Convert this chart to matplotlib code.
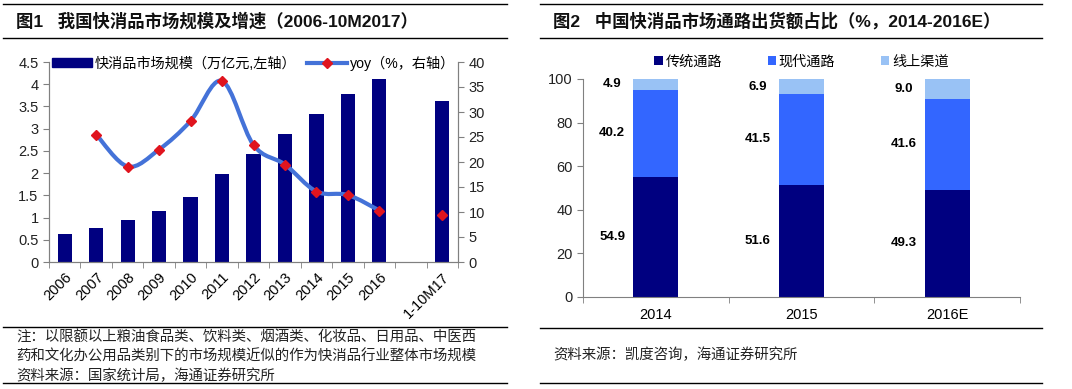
import numpy as np
import matplotlib
matplotlib.use("Agg")
import matplotlib.pyplot as plt
from matplotlib.path import Path
from matplotlib.patches import PathPatch, Patch
from matplotlib.lines import Line2D

plt.rcParams["font.family"] = ["Liberation Sans", "Noto Sans CJK SC"]

# -----------------------------
# Data
# -----------------------------
years = ["2006", "2007", "2008", "2009", "2010", "2011", "2012", "2013",
         "2014", "2015", "2016", "", "1-10M17"]
market_size = [0.62, 0.77, 0.94, 1.14, 1.455, 1.97, 2.44, 2.89,
               3.32, 3.77, 4.125, np.nan, 3.615]
yoy = [np.nan, 25.5, 19.1, 22.5, 28.2, 36.2, 23.4, 19.5,
       14.1, 13.4, 10.3, np.nan, 9.5]

ch_years = ["2014", "2015", "2016E"]
traditional = [54.9, 51.6, 49.3]
modern = [40.2, 41.5, 41.6]
online = [4.9, 6.9, 9.0]

NAVY = "#000080"
BLUE = "#3366FF"
LIGHT = "#99C2F5"
LINE = "#4472D8"
RED = "#E0141E"
GRID = "#808080"


def smooth_path(xs, ys):
    # Catmull-Rom through the points, written as cubic beziers
    verts = [(xs[0], ys[0])]
    codes = [Path.MOVETO]
    n = len(xs)
    for i in range(n - 1):
        a = i - 1 if i > 0 else i
        d = i + 2 if i + 2 < n else i + 1
        c1 = (xs[i] + (xs[i + 1] - xs[a]) / 6, ys[i] + (ys[i + 1] - ys[a]) / 6)
        c2 = (xs[i + 1] - (xs[d] - xs[i]) / 6, ys[i + 1] - (ys[d] - ys[i]) / 6)
        verts += [c1, c2, (xs[i + 1], ys[i + 1])]
        codes += [Path.CURVE4] * 3
    return Path(verts, codes)


fig = plt.figure(figsize=(10.72, 3.89), dpi=100)
W, H = 1072, 389


def hline(x0, x1, y, lw=1.0):
    fig.add_artist(Line2D([x0 / W, x1 / W], [1 - y / H, 1 - y / H],
                          color="black", lw=lw))


def ftext(x, y, s, **kw):
    fig.text(x / W, 1 - y / H, s, va="center", ha="left", **kw)


# -----------------------------
# Left chart
# -----------------------------
ax = fig.add_axes([49 / W, 1 - 262 / H, 409 / W, 200 / H])
x = np.arange(len(years))
bars = ax.bar(x, market_size, width=0.45, color=NAVY, zorder=2)
ax.set_xlim(-0.5, len(years) - 0.5)
ax.set_ylim(0, 4.5)
ax.set_yticks(np.arange(0, 4.51, 0.5))
ax.set_yticklabels(["0", "0.5", "1", "1.5", "2", "2.5", "3", "3.5", "4", "4.5"])
ax.set_xticks(x)
ax.set_xticklabels(years, rotation=45, ha="right", rotation_mode="anchor")
ax.set_xticks(np.arange(-0.5, len(years), 1), minor=True)
ax.tick_params(axis="x", which="major", length=0, pad=6, labelsize=10.5)
ax.tick_params(axis="x", which="minor", length=4, color=GRID)
ax.tick_params(axis="y", length=4, color=GRID, labelsize=10.5, labelcolor="#222222")
ax.spines["top"].set_visible(False)
for s in ["left", "right", "bottom"]:
    ax.spines[s].set_color(GRID)

ax2 = ax.twinx()
ax2.set_ylim(0, 40)
ax2.set_yticks(np.arange(0, 41, 5))
ax2.tick_params(axis="y", length=4, color=GRID, labelsize=10.5, labelcolor="#222222")
ax2.spines["top"].set_visible(False)
for s in ["left", "right", "bottom"]:
    ax2.spines[s].set_color(GRID)

yv = np.array(yoy, dtype=float)
run = [i for i in range(1, 11)]
ax2.add_patch(PathPatch(smooth_path(x[run].astype(float), yv[run]),
                        fill=False, ec=LINE, lw=3, capstyle="round",
                        joinstyle="round", zorder=3))
ax2.plot(x, yv, ls="none", marker="D", ms=5, color=RED, zorder=4)

h_bar = Patch(color=NAVY)
h_line = Line2D([], [], color=LINE, lw=3, marker="D", ms=5,
                markerfacecolor=RED, markeredgecolor=RED)
ax2.legend([h_bar, h_line], ["快消品市场规模（万亿元,左轴）", "yoy（%，右轴）"],
           loc="center left", bbox_to_anchor=(0.0, 0.995), ncol=2,
           frameon=False, fontsize=10.2, handlelength=2.8, handleheight=0.6,
           handletextpad=0.2, columnspacing=0.8, borderaxespad=0,
           borderpad=0.2)

# -----------------------------
# Right chart
# -----------------------------
bx = fig.add_axes([583 / W, 1 - 297 / H, 437 / W, 218 / H])
xc = np.arange(len(ch_years))
b1 = np.array(traditional)
b2 = np.array(modern)
b3 = np.array(online)
bx.bar(xc, b1, width=0.31, color=NAVY, label="传统通路")
bx.bar(xc, b2, width=0.31, bottom=b1, color=BLUE, label="现代通路")
bx.bar(xc, b3, width=0.31, bottom=b1 + b2, color=LIGHT, label="线上渠道")
for i in range(len(ch_years)):
    for v, base in [(b1[i], 0), (b2[i], b1[i]), (b3[i], b1[i] + b2[i])]:
        bx.text(xc[i] - 0.3, base + v / 2, f"{v:.1f}", ha="center",
                va="center", fontsize=9.5, fontweight="bold")
bx.set_xlim(-0.5, len(ch_years) - 0.5)
bx.set_ylim(0, 100)
bx.set_yticks(np.arange(0, 101, 20))
bx.set_xticks(xc)
bx.set_xticklabels(ch_years)
bx.set_xticks(np.arange(-0.5, len(ch_years), 1), minor=True)
bx.tick_params(axis="x", which="major", length=0, pad=8, labelsize=10.5)
bx.tick_params(axis="x", which="minor", length=4, color=GRID)
bx.tick_params(axis="y", length=4, color=GRID, labelsize=10.5, labelcolor="#222222")
bx.spines["top"].set_visible(False)
bx.spines["right"].set_visible(False)
bx.spines["left"].set_color(GRID)
bx.spines["bottom"].set_color(GRID)
bx.legend(loc="center", bbox_to_anchor=(0.5, 1.08), ncol=3, frameon=False,
          fontsize=10.2, handlelength=0.6, handleheight=0.6, handletextpad=0.2,
          columnspacing=3.2, borderaxespad=0)

# -----------------------------
# Titles, rules and notes
# -----------------------------
hline(3, 507, 4)
hline(3, 507, 38)
hline(3, 507, 327)
hline(3, 507, 383)
hline(540, 1042, 4)
hline(540, 1042, 38)
hline(540, 1042, 328)
hline(540, 1042, 383)

ftext(16, 21, "图1   我国快消品市场规模及增速（2006-10M2017）",
      fontsize=12.5, fontweight="bold", color="#111111")
ftext(553, 21, "图2   中国快消品市场通路出货额占比（%，2014-2016E）",
      fontsize=12.5, fontweight="bold", color="#111111")

note = ["注：以限额以上粮油食品类、饮料类、烟酒类、化妆品、日用品、中医西",
        "药和文化办公用品类别下的市场规模近似的作为快消品行业整体市场规模",
        "资料来源：国家统计局，海通证券研究所"]
for k, s in enumerate(note):
    ftext(16, 338 + 19 * k, s, fontsize=10.4, color="#222222")
ftext(553, 355, "资料来源：凯度咨询，海通证券研究所", fontsize=10.4, color="#222222")

fig.savefig("out.png", dpi=100)
